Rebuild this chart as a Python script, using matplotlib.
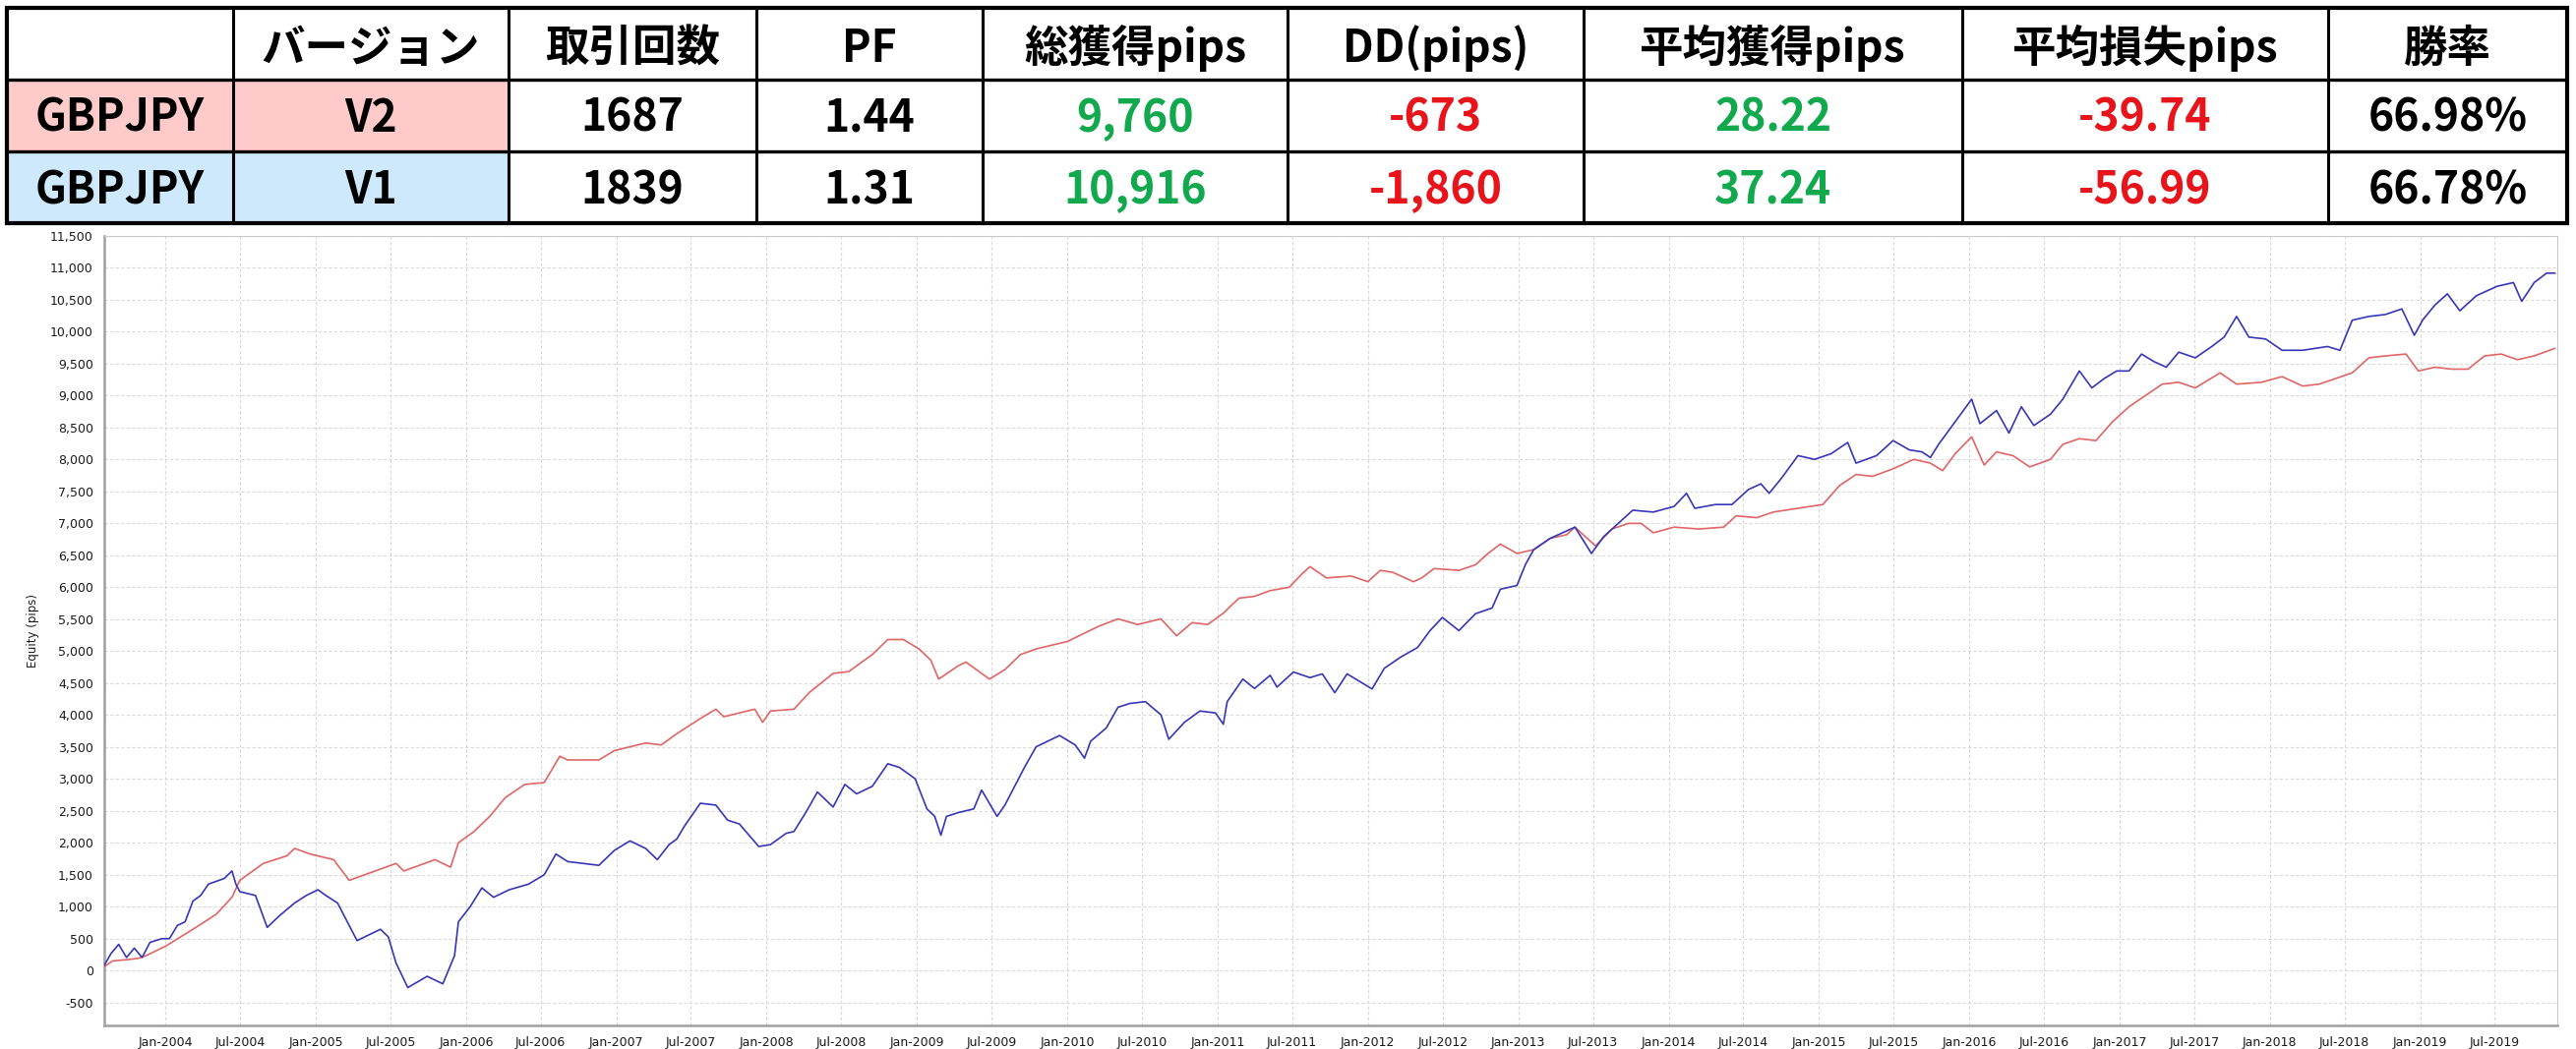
import numpy as np
import pandas as pd
import matplotlib
matplotlib.use("Agg")
import matplotlib.pyplot as plt
import matplotlib.dates as mdates
from matplotlib.ticker import FuncFormatter, MultipleLocator
from matplotlib.patches import Rectangle

# ---------------- data ----------------
table_header = ["", "バージョン", "取引回数", "PF", "総獲得pips", "DD(pips)",
                "平均獲得pips", "平均損失pips", "勝率"]
row_v2 = ["GBPJPY", "V2", "1687", "1.44", "9,760", "-673", "28.22", "-39.74", "66.98%"]
row_v1 = ["GBPJPY", "V1", "1839", "1.31", "10,916", "-1,860", "37.24", "-56.99", "66.78%"]

# equity curves: time in decimal years, value in pips
v2_t = [2003.594, 2003.65, 2003.75, 2003.82, 2003.872, 2004.002, 2004.184, 2004.339, 2004.443,
        2004.495, 2004.651, 2004.807, 2004.859, 2004.962, 2005.118, 2005.222, 2005.326, 2005.534,
        2005.586, 2005.793, 2005.897, 2005.949, 2006.053, 2006.157, 2006.261, 2006.390, 2006.520,
        2006.624, 2006.676, 2006.884, 2006.988, 2007.195, 2007.299, 2007.403, 2007.559, 2007.663,
        2007.715, 2007.922, 2007.974, 2008.026, 2008.182, 2008.286, 2008.364, 2008.442, 2008.546,
        2008.702, 2008.805, 2008.909, 2009.013, 2009.091, 2009.143, 2009.273, 2009.325, 2009.481,
        2009.584, 2009.688, 2009.792, 2010.000, 2010.129, 2010.207, 2010.337, 2010.467, 2010.623,
        2010.727, 2010.830, 2010.934, 2011.038, 2011.142, 2011.246, 2011.350, 2011.477, 2011.560,
        2011.615, 2011.725, 2011.890, 2012.000, 2012.083, 2012.165, 2012.303, 2012.358, 2012.440,
        2012.605, 2012.715, 2012.798, 2012.880, 2012.990, 2013.101, 2013.211, 2013.321, 2013.376,
        2013.431, 2013.513, 2013.623, 2013.733, 2013.816, 2013.898, 2014.036, 2014.201, 2014.366,
        2014.449, 2014.586, 2014.696, 2014.861, 2015.026, 2015.137, 2015.247, 2015.357, 2015.494,
        2015.632, 2015.742, 2015.824, 2015.907, 2016.017, 2016.100, 2016.182, 2016.292, 2016.402,
        2016.540, 2016.622, 2016.732, 2016.842, 2016.952, 2017.062, 2017.173, 2017.283, 2017.393,
        2017.503, 2017.668, 2017.778, 2017.943, 2018.081, 2018.218, 2018.328, 2018.438, 2018.548,
        2018.658, 2018.768, 2018.906, 2018.988, 2019.098, 2019.209, 2019.319, 2019.429, 2019.539,
        2019.649, 2019.759, 2019.896]
v2_v = [60, 150, 170, 190, 232, 380, 645, 881, 1146,
        1411, 1676, 1794, 1911, 1823, 1735, 1411, 1499, 1676,
        1558, 1735, 1617, 2000, 2176, 2412, 2707, 2913, 2942,
        3355, 3296, 3296, 3443, 3561, 3531, 3708, 3944, 4091,
        3973, 4091, 3885, 4062, 4091, 4356, 4503, 4651, 4680,
        4946, 5181, 5181, 5034, 4857, 4562, 4769, 4828, 4562,
        4710, 4946, 5034, 5151, 5299, 5387, 5505, 5417, 5505,
        5240, 5446, 5417, 5593, 5829, 5858, 5947, 6000, 6205,
        6323, 6146, 6175, 6087, 6264, 6234, 6087, 6146, 6293,
        6264, 6352, 6529, 6676, 6529, 6588, 6765, 6823, 6941,
        6823, 6647, 6912, 7000, 7000, 6853, 6941, 6912, 6941,
        7118, 7089, 7177, 7236, 7295, 7589, 7766, 7736, 7854,
        8002, 7943, 7825, 8090, 8355, 7913, 8119, 8060, 7884,
        8002, 8237, 8326, 8296, 8591, 8826, 9003, 9180, 9209,
        9121, 9356, 9180, 9209, 9298, 9150, 9180, 9268, 9357,
        9592, 9622, 9651, 9386, 9445, 9415, 9415, 9622, 9651,
        9563, 9622, 9739]

v1_t = [2003.594, 2003.638, 2003.690, 2003.742, 2003.794, 2003.846, 2003.898, 2003.976, 2004.028,
        2004.080, 2004.132, 2004.184, 2004.235, 2004.287, 2004.391, 2004.443, 2004.469, 2004.495,
        2004.599, 2004.677, 2004.755, 2004.859, 2004.937, 2005.014, 2005.066, 2005.144, 2005.222,
        2005.274, 2005.430, 2005.482, 2005.534, 2005.612, 2005.741, 2005.845, 2005.923, 2005.949,
        2006.027, 2006.105, 2006.183, 2006.287, 2006.416, 2006.520, 2006.598, 2006.676, 2006.884,
        2006.988, 2007.091, 2007.195, 2007.273, 2007.351, 2007.403, 2007.455, 2007.559, 2007.663,
        2007.741, 2007.819, 2007.948, 2008.026, 2008.130, 2008.182, 2008.260, 2008.338, 2008.442,
        2008.520, 2008.598, 2008.702, 2008.805, 2008.883, 2008.987, 2009.065, 2009.117, 2009.158,
        2009.195, 2009.273, 2009.377, 2009.429, 2009.532, 2009.584, 2009.636, 2009.714, 2009.792,
        2009.948, 2010.052, 2010.114, 2010.155, 2010.259, 2010.337, 2010.415, 2010.519, 2010.623,
        2010.675, 2010.779, 2010.882, 2010.986, 2011.038, 2011.064, 2011.168, 2011.246, 2011.350,
        2011.395, 2011.505, 2011.615, 2011.697, 2011.780, 2011.862, 2011.945, 2012.028, 2012.110,
        2012.220, 2012.330, 2012.413, 2012.495, 2012.605, 2012.715, 2012.825, 2012.880, 2012.990,
        2013.046, 2013.101, 2013.211, 2013.321, 2013.376, 2013.486, 2013.568, 2013.678, 2013.761,
        2013.898, 2014.036, 2014.119, 2014.174, 2014.311, 2014.421, 2014.531, 2014.614, 2014.669,
        2014.751, 2014.861, 2014.971, 2015.081, 2015.192, 2015.247, 2015.384, 2015.494, 2015.604,
        2015.687, 2015.742, 2015.797, 2015.907, 2016.017, 2016.072, 2016.182, 2016.265, 2016.347,
        2016.430, 2016.540, 2016.622, 2016.732, 2016.815, 2016.897, 2016.980, 2017.062, 2017.145,
        2017.228, 2017.310, 2017.393, 2017.503, 2017.613, 2017.695, 2017.778, 2017.860, 2017.971,
        2018.081, 2018.218, 2018.383, 2018.466, 2018.548, 2018.658, 2018.768, 2018.878, 2018.961,
        2019.016, 2019.098, 2019.181, 2019.264, 2019.374, 2019.511, 2019.621, 2019.676, 2019.759,
        2019.842, 2019.897]
v1_v = [80, 262, 409, 203, 350, 203, 439, 498, 498,
        704, 763, 1087, 1175, 1352, 1440, 1558, 1352, 1234,
        1175, 674, 851, 1057, 1175, 1264, 1175, 1057, 704,
        468, 645, 527, 115, -268, -91, -209, 232, 763,
        998, 1293, 1146, 1264, 1352, 1499, 1823, 1705, 1646,
        1882, 2029, 1911, 1735, 1970, 2059, 2265, 2618, 2589,
        2353, 2294, 1941, 1970, 2147, 2176, 2471, 2795, 2559,
        2913, 2766, 2883, 3237, 3178, 3001, 2530, 2412, 2118,
        2412, 2471, 2530, 2825, 2412, 2589, 2825, 3178, 3502,
        3679, 3531, 3325, 3590, 3797, 4121, 4180, 4209, 4003,
        3620, 3885, 4062, 4032, 3856, 4209, 4562, 4415, 4621,
        4437, 4673, 4585, 4644, 4349, 4644, 4526, 4408, 4732,
        4909, 5056, 5321, 5527, 5321, 5586, 5675, 5969, 6028,
        6352, 6588, 6765, 6882, 6941, 6529, 6794, 7030, 7206,
        7177, 7265, 7471, 7236, 7295, 7295, 7530, 7619, 7471,
        7707, 8061, 8002, 8090, 8267, 7943, 8061, 8296, 8149,
        8119, 8031, 8237, 8591, 8944, 8561, 8767, 8414, 8826,
        8532, 8709, 8944, 9386, 9121, 9268, 9386, 9386, 9651,
        9533, 9445, 9681, 9592, 9769, 9916, 10240, 9916, 9887,
        9710, 9710, 9769, 9710, 10181, 10240, 10270, 10358, 9946,
        10181, 10417, 10594, 10329, 10564, 10711, 10770, 10476, 10770,
        10918, 10918]

x_range = [2003.594, 2019.913]
y_range = [-860, 11500]


def dec2dt(arr):
    arr = np.asarray(arr, dtype=float)
    yr = np.floor(arr).astype(int)
    start = pd.to_datetime(yr.astype(str), format="%Y")
    nxt = pd.to_datetime((yr + 1).astype(str), format="%Y")
    return start + (nxt - start) * (arr - yr)


# ---------------- figure ----------------
W, H = 2619, 1067
DPI = 100
fig = plt.figure(figsize=(W / DPI, H / DPI), dpi=DPI, facecolor="white")

# ---- table (pixel-coordinate overlay) ----
tax = fig.add_axes([0, 0, 1, 1])
tax.set_xlim(0, W)
tax.set_ylim(H, 0)
tax.axis("off")

col_x = [7, 237, 517, 769, 999, 1309, 1610, 1995, 2367, 2610]
row_y = [8, 81, 154, 227]
baselines = [63, 134, 207]
pink = "#ffcaca"
light_blue = "#cde9fb"
green = "#12a84e"
red = "#e8141b"
val_colors = ["black", "black", "black", "black", green, red, green, red, "black"]

tax.add_patch(Rectangle((col_x[0], row_y[1]), col_x[2] - col_x[0], row_y[2] - row_y[1],
                        facecolor=pink, edgecolor="none", zorder=1))
tax.add_patch(Rectangle((col_x[0], row_y[2]), col_x[2] - col_x[0], row_y[3] - row_y[2],
                        facecolor=light_blue, edgecolor="none", zorder=1))
for x in col_x[1:-1]:
    tax.plot([x, x], [row_y[0], row_y[-1]], color="black", lw=2.2, zorder=3,
             solid_capstyle="butt")
for y in row_y[1:-1]:
    tax.plot([col_x[0], col_x[-1]], [y, y], color="black", lw=2.4, zorder=3,
             solid_capstyle="butt")
tax.add_patch(Rectangle((col_x[0], row_y[0]), col_x[-1] - col_x[0], row_y[-1] - row_y[0],
                        facecolor="none", edgecolor="black", lw=3.0, zorder=4))

font_fam = ["Noto Sans CJK JP", "DejaVu Sans"]
rows = [table_header, row_v2, row_v1]
for r, row in enumerate(rows):
    for c, txt in enumerate(row):
        cx = (col_x[c] + col_x[c + 1]) / 2
        color = "black" if r == 0 else val_colors[c]
        tax.text(cx, baselines[r], txt, ha="center", va="baseline", fontsize=32,
                 fontweight="bold", family=font_fam, color=color, zorder=5)

# ---- equity chart ----
left, right, top, bottom = 106, 2600, 240, 1043
ax = fig.add_axes([left / W, 1 - bottom / H, (right - left) / W, (bottom - top) / H])
ax.set_facecolor("white")

ax.plot(dec2dt(v2_t), v2_v, color="#e06565", lw=1.2, zorder=3)
ax.plot(dec2dt(v1_t), v1_v, color="#3636b8", lw=1.2, zorder=4)

ax.set_xlim(dec2dt(x_range))
ax.set_ylim(*y_range)

ax.xaxis.set_major_locator(mdates.MonthLocator(bymonth=[1, 7]))
ax.xaxis.set_major_formatter(mdates.DateFormatter("%b-%Y"))
ax.yaxis.set_major_locator(MultipleLocator(500))
ax.yaxis.set_major_formatter(FuncFormatter(lambda v, p: f"{int(v):,}"))

ax.grid(True, color="#dadada", linestyle=(0, (3, 2)), linewidth=0.8)
ax.set_axisbelow(True)
ax.tick_params(axis="both", length=0, labelsize=9, colors="#1a1a1a")
ax.tick_params(axis="x", pad=8)
ax.tick_params(axis="y", pad=8)
for lab in ax.get_xticklabels() + ax.get_yticklabels():
    lab.set_family("DejaVu Sans")

for s in ["left", "bottom"]:
    ax.spines[s].set_color("#a0a0a0")
    ax.spines[s].set_linewidth(1.8)
for s in ["top", "right"]:
    ax.spines[s].set_color("#c8c8c8")
    ax.spines[s].set_linewidth(0.8)

ax.set_ylabel("Equity (pips)", fontsize=8.5, family="DejaVu Sans", color="#1a1a1a")
ax.yaxis.set_label_coords(-0.0265, 0.5)

fig.savefig("out.png", dpi=DPI, facecolor="white")
